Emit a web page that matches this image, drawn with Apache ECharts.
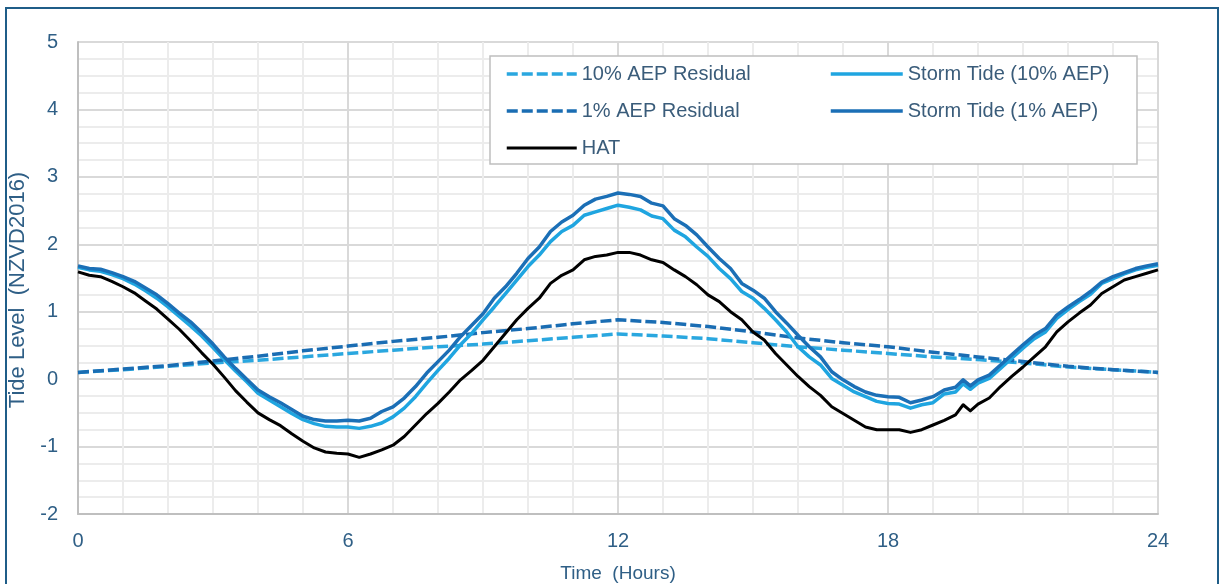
<!DOCTYPE html>
<html>
<head>
<meta charset="utf-8">
<script src="https://cdn.jsdelivr.net/npm/echarts@6/dist/echarts.min.js"></script>
<style>
  html, body { margin: 0; padding: 0; background: #ffffff; }
  #chart { width: 1221px; height: 584px; position: absolute; left: 0; top: 0; }
  #frame { position: absolute; left: 5px; top: 7px; width: 1214px; height: 620px;
           border: 2px solid #1f5d88; pointer-events: none; box-sizing: border-box; }
</style>
</head>
<body>
<div id="chart"></div>
<div id="frame"></div>
<script>
// ---- data ----
const hours = [0,0.25,0.5,0.75,1,1.25,1.5,1.75,2,2.25,2.5,2.75,3,3.25,3.5,3.75,4,4.25,4.5,4.75,5,5.25,5.5,5.75,6,
  6.25,6.5,6.75,7,7.25,7.5,7.75,8,8.25,8.5,8.75,9,9.25,9.5,9.75,10,10.25,10.5,10.75,11,11.25,11.5,11.75,12,
  12.25,12.5,12.75,13,13.25,13.5,13.75,14,14.25,14.5,14.75,15,15.25,15.5,15.75,16,16.25,16.5,16.75,17,17.25,17.5,17.75,18,
  18.25,18.5,18.75,19,19.25,19.5,19.67,19.83,20,20.25,20.5,20.75,21,21.25,21.5,21.75,22,22.25,22.5,22.75,23,23.25,23.5,23.75,24];

const hat = [1.59,1.54,1.52,1.45,1.37,1.28,1.16,1.04,0.89,0.74,0.57,0.39,0.22,0.03,-0.17,-0.34,-0.50,-0.60,-0.69,-0.81,-0.92,-1.02,-1.08,-1.10,-1.11,
  -1.16,-1.11,-1.05,-0.98,-0.85,-0.68,-0.51,-0.36,-0.19,-0.01,0.13,0.28,0.48,0.68,0.88,1.05,1.20,1.42,1.54,1.62,1.77,1.82,1.84,1.88,
  1.88,1.84,1.77,1.73,1.62,1.52,1.40,1.25,1.15,1.00,0.88,0.70,0.58,0.38,0.21,0.04,-0.11,-0.24,-0.41,-0.51,-0.61,-0.71,-0.75,-0.75,
  -0.75,-0.79,-0.75,-0.68,-0.61,-0.53,-0.38,-0.47,-0.37,-0.28,-0.11,0.04,0.18,0.33,0.48,0.70,0.85,0.98,1.10,1.27,1.37,1.47,1.52,1.57,1.62];

const storm1 = [1.68,1.64,1.63,1.58,1.52,1.45,1.35,1.25,1.12,0.98,0.85,0.69,0.52,0.33,0.16,0.00,-0.16,-0.26,-0.35,-0.45,-0.55,-0.60,-0.62,-0.62,-0.61,
  -0.62,-0.58,-0.48,-0.41,-0.28,-0.11,0.09,0.26,0.43,0.63,0.80,0.97,1.20,1.37,1.57,1.79,1.96,2.19,2.33,2.43,2.58,2.67,2.71,2.76,
  2.74,2.71,2.61,2.57,2.38,2.28,2.14,1.96,1.79,1.64,1.42,1.32,1.20,1.00,0.83,0.65,0.48,0.33,0.11,-0.01,-0.11,-0.19,-0.24,-0.26,
  -0.27,-0.35,-0.31,-0.26,-0.16,-0.12,-0.01,-0.10,-0.01,0.06,0.21,0.36,0.51,0.65,0.75,0.95,1.07,1.18,1.30,1.44,1.52,1.58,1.64,1.68,1.71];

const storm10 = [1.66,1.62,1.60,1.55,1.49,1.41,1.31,1.20,1.07,0.93,0.79,0.64,0.47,0.29,0.12,-0.04,-0.21,-0.31,-0.41,-0.51,-0.60,-0.66,-0.70,-0.71,-0.71,
  -0.73,-0.70,-0.65,-0.56,-0.43,-0.26,-0.06,0.13,0.31,0.51,0.68,0.88,1.07,1.27,1.47,1.67,1.84,2.04,2.19,2.28,2.43,2.48,2.53,2.58,
  2.55,2.51,2.42,2.38,2.21,2.11,1.96,1.82,1.64,1.49,1.30,1.20,1.05,0.88,0.70,0.48,0.33,0.21,0.01,-0.09,-0.19,-0.26,-0.33,-0.36,
  -0.37,-0.43,-0.38,-0.35,-0.22,-0.19,-0.07,-0.15,-0.06,0.01,0.16,0.31,0.46,0.60,0.70,0.90,1.03,1.15,1.26,1.42,1.49,1.56,1.62,1.66,1.69];

const residHours = [0,1,2,3,4,5,6,7,8,9,10,11,12,13,14,15,16,17,18,19,20,21,22,23,24];
const resid10 = [0.10,0.14,0.19,0.24,0.28,0.33,0.38,0.43,0.48,0.52,0.57,0.62,0.67,0.64,0.60,0.54,0.48,0.43,0.38,0.33,0.29,0.24,0.18,0.14,0.10];
const resid1  = [0.10,0.15,0.20,0.27,0.34,0.42,0.49,0.56,0.62,0.69,0.75,0.82,0.88,0.84,0.78,0.70,0.61,0.54,0.48,0.40,0.33,0.26,0.19,0.14,0.10];

const xTicks = [0, 6, 12, 18, 24];
const yTicks = [-2, -1, 0, 1, 2, 3, 4, 5];

const names = ['10% AEP Residual', 'Storm Tide (10% AEP)', '1% AEP Residual', 'Storm Tide (1% AEP)', 'HAT'];

// ---- chart ----
const zip = (xs, ys) => xs.map((x, i) => [x, ys[i]]);
const FONT = 'Liberation Sans, Arial, sans-serif';
const TXT = '#2f5f86';

const chart = echarts.init(document.getElementById('chart'), null, { renderer: 'canvas' });

const mkLine = (name, xs, ys, color, width, dashed, z) => ({
  name, type: 'line', data: zip(xs, ys), symbol: 'none', smooth: false, z,
  lineStyle: { color, width, type: dashed ? [11, 4] : 'solid', cap: 'butt', join: 'round' },
  itemStyle: { color },
  emphasis: { disabled: true },
  animation: false
});

const legendCommon = {
  orient: 'vertical', padding: 0, itemGap: 17, itemHeight: 20, z: 10,
  itemStyle: { opacity: 0, borderWidth: 0 },
  lineStyle: { width: 3.5 },
  textStyle: { fontFamily: FONT, fontSize: 20, color: '#3a5c7a', lineHeight: 20 },
  selectedMode: false
};

chart.setOption({
  animation: false,
  backgroundColor: '#ffffff',
  grid: { left: 78, right: 63, top: 42, bottom: 70, containLabel: false, outerBoundsMode: 'none' },
  xAxis: {
    type: 'value', min: xTicks[0], max: xTicks[xTicks.length - 1], interval: 6,
    name: 'Time  (Hours)', nameLocation: 'middle', nameGap: 50,
    nameTextStyle: { fontFamily: FONT, fontSize: 19, color: TXT },
    axisLine: { show: true, onZero: false, lineStyle: { color: '#bfbfbf', width: 2 } },
    axisTick: { show: false },
    axisLabel: { fontFamily: FONT, fontSize: 20, color: TXT, margin: 17 },
    splitLine: { show: true, lineStyle: { color: '#d9d9d9', width: 2 } },
    minorTick: { show: false, splitNumber: 6 },
    minorSplitLine: { show: true, lineStyle: { color: '#ececec', width: 2 } }
  },
  yAxis: {
    type: 'value', min: yTicks[0], max: yTicks[yTicks.length - 1], interval: 1,
    name: 'Tide Level  (NZVD2016)', nameLocation: 'middle', nameGap: 46, nameRotate: 90,
    nameTextStyle: { fontFamily: FONT, fontSize: 22, color: TXT, padding: [0, 24, 0, 0] },
    axisLine: { show: true, lineStyle: { color: '#bfbfbf', width: 2 } },
    axisTick: { show: false },
    axisLabel: { fontFamily: FONT, fontSize: 20, color: TXT, margin: 20 },
    splitLine: { show: true, lineStyle: { color: '#d9d9d9', width: 2 } },
    minorTick: { show: false, splitNumber: 4 },
    minorSplitLine: { show: true, lineStyle: { color: '#ececec', width: 2 } }
  },
  graphic: [{
    type: 'rect', z: 5, silent: true,
    shape: { x: 490, y: 56, width: 647, height: 108 },
    style: { fill: '#ffffff', stroke: '#bfbfbf', lineWidth: 1.5 }
  }],
  legend: [
    Object.assign({}, legendCommon, { left: 505, top: 64, itemWidth: 70,
      data: [names[0], names[2], { name: names[4], lineStyle: { width: 3 } }] }),
    Object.assign({}, legendCommon, { left: 829, top: 64, itemWidth: 72, data: [names[1], names[3]] })
  ],
  series: [
    mkLine(names[0], residHours, resid10, '#2aa7df', 3.5, true, 2),
    mkLine(names[2], residHours, resid1, '#1a6db3', 3.5, true, 2),
    mkLine(names[1], hours, storm10, '#1fa5e0', 3.5, false, 3),
    mkLine(names[3], hours, storm1, '#1b6fb6', 3.5, false, 3),
    mkLine(names[4], hours, hat, '#000000', 3, false, 4)
  ]
});
</script>
</body>
</html>
